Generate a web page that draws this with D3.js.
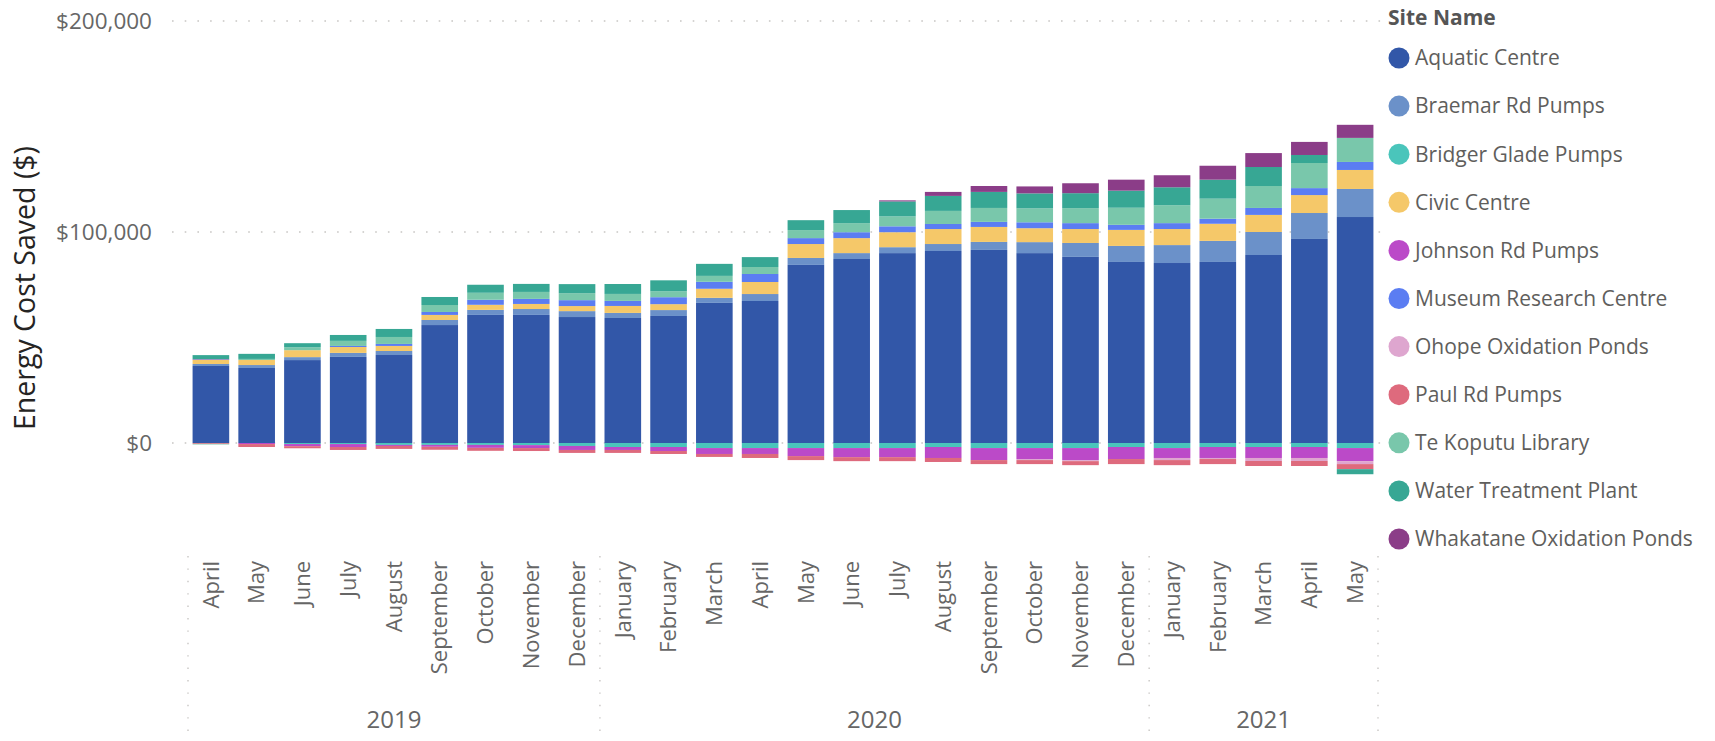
<!DOCTYPE html>
<html>
<head>
<meta charset="utf-8">
<script src="https://cdn.jsdelivr.net/npm/d3@7"></script>
<style>
  body { margin: 0; background: #fff; }
  svg { display: block; font-family: "Segoe UI", "Open Sans", sans-serif; }
</style>
</head>
<body>
<svg id="chart" width="1715" height="741"></svg>
<script>
// ---------------- DATA ----------------
const months = ["April","May","June","July","August","September","October","November","December",
  "January","February","March","April","May","June","July","August","September","October","November","December",
  "January","February","March","April","May"];
const years = ["2019","2020","2021"];
const monthsPerYear = [9, 12, 5];
const yTicks = [0, 100000, 200000];

const siteNames = ["Aquatic Centre","Braemar Rd Pumps","Bridger Glade Pumps","Civic Centre","Johnson Rd Pumps",
  "Museum Research Centre","Ohope Oxidation Ponds","Paul Rd Pumps","Te Koputu Library","Water Treatment Plant",
  "Whakatane Oxidation Ponds"];
const siteColors = ["#3257A8","#6B91C9","#4AC5BB","#F5C869","#BB4AC8","#5B7DF2","#DEA6CF","#DE6A7D","#79C7AB","#37A794","#8B3D88"];

const aquaticCentre = [36500,35550,39300,40800,41700,55900,60700,60700,59700,59250,60200,66400,67300,84400,87200,90000,91000,91500,90000,88200,85800,85300,85800,89100,96700,107100];
const braemarRdPumps = [950,1400,1400,1900,1900,2400,2400,2800,2800,2400,2800,2400,3300,3300,2800,2800,3300,3800,5200,6600,7600,8500,10000,10900,12300,13300];
const bridgerGladePumps = [0,0,-500,-500,-900,-900,-900,-1000,-1400,-1900,-1900,-2400,-2400,-2400,-2400,-2400,-1900,-2400,-2400,-2400,-1900,-2400,-1900,-1900,-1900,-2400];
const civicCentre = [1900,2400,3300,2800,2400,2400,2400,2400,2400,3300,2800,4300,5700,6600,7100,7100,7100,7100,6600,6600,7600,7600,8100,8100,8500,9000];
const johnsonRdPumps = [300,-500,-1000,-1400,-500,-900,-1400,-1400,-1900,-1400,-1900,-2800,-2800,-3800,-4300,-4300,-5200,-5700,-5200,-5700,-5700,-4700,-5200,-5200,-5200,-6200];
const museumResearchCentre = [0,0,0,500,950,1400,2400,2400,2800,2400,3300,3300,3800,2800,2800,2800,2400,2400,2800,2800,2400,2800,2400,3300,3300,3800];
const ohopeOxidationPonds = [0,0,0,0,0,0,0,0,0,0,0,0,0,0,0,0,0,0,-500,-500,0,-1000,-500,-1400,-1400,-1400];
const paulRdPumps = [-400,-1400,-1000,-1400,-1400,-1400,-1400,-1400,-1400,-1400,-1400,-1400,-1900,-1900,-1900,-1900,-1900,-1900,-1900,-1900,-2400,-2400,-2400,-2400,-2400,-2400];
const teKoputuLibrary = [-300,500,1400,2400,3300,3300,3300,3300,3300,3300,2800,2800,3300,3800,4300,4700,6200,6600,6600,7100,8100,8500,9500,10400,11900,11400];
const waterTreatmentPlant = [2000,2400,1900,2800,3800,3800,3800,3800,4300,4700,5200,5700,4700,4700,6200,7100,7100,7600,7100,7100,8100,8500,9000,9000,3800,-2400];
const whakataneOxidationPonds = [0,0,0,0,0,0,0,0,0,0,0,0,0,0,0,500,1900,2800,3300,4700,5200,5700,6600,6600,6200,6200];

const seriesValues = [aquaticCentre, braemarRdPumps, bridgerGladePumps, civicCentre, johnsonRdPumps,
  museumResearchCentre, ohopeOxidationPonds, paulRdPumps, teKoputuLibrary, waterTreatmentPlant, whakataneOxidationPonds];

// ---------------- BUILD TABLE ----------------
const table = months.map((m, i) => {
  const row = { key: i };
  siteNames.forEach((s, j) => row[s] = seriesValues[j][i]);
  return row;
});

const svg = d3.select("#chart");

const x = d3.scaleBand().domain(d3.range(months.length)).range([188, 1378]).paddingInner(0.2).paddingOuter(0.1);
const y = d3.scaleLinear().domain([-50000, 200000]).range([548.5, 21]);

// gridlines
svg.append("g").selectAll("line").data(yTicks).join("line")
  .attr("x1", 172).attr("x2", 1384)
  .attr("y1", d => y(d)).attr("y2", d => y(d))
  .attr("stroke", "#C8C6C4").attr("stroke-width", 1.6)
  .attr("stroke-dasharray", "1.6,11.1").attr("stroke-linecap", "butt");

// y tick labels
const fmt = d => "$" + d3.format(",")(d);
svg.append("g").selectAll("text").data(yTicks).join("text")
  .attr("x", 152).attr("y", d => y(d)).attr("dy", "0.35em")
  .attr("text-anchor", "end").attr("fill", "#666666")
  .style("font-size", "22.5px").text(fmt);

// y title
svg.append("text")
  .attr("transform", "translate(25," + 288 + ") rotate(-90)")
  .attr("text-anchor", "middle").attr("dy", "0.35em")
  .attr("fill", "#252423").style("font-size", "28.5px")
  .text("Energy Cost Saved ($)");

// stacked bars
const stack = d3.stack().keys(siteNames).offset(d3.stackOffsetDiverging);
const stacked = stack(table);

svg.append("g").selectAll("g").data(stacked).join("g")
  .attr("fill", (d, i) => siteColors[i])
  .selectAll("rect").data(d => d).join("rect")
  .attr("x", (d, i) => x(i))
  .attr("width", x.bandwidth())
  .attr("y", d => y(Math.max(d[0], d[1])))
  .attr("height", d => Math.abs(y(d[0]) - y(d[1])));

// month labels
svg.append("g").selectAll("text").data(months).join("text")
  .attr("transform", (d, i) => "translate(" + (x(i) + x.bandwidth() / 2) + ",561) rotate(-90)")
  .attr("text-anchor", "end").attr("dy", "0.35em")
  .attr("fill", "#666666").style("font-size", "22px")
  .text(d => d);

// year dividers and labels
let acc = 0;
const boundaries = [0];
monthsPerYear.forEach(n => { acc += n; boundaries.push(acc); });
const bx = i => i === 0 ? 188 : (i === months.length ? 1378 : x(i) - x.step() * x.paddingInner() / 2);
svg.append("g").selectAll("line").data(boundaries).join("line")
  .attr("x1", d => bx(d)).attr("x2", d => bx(d))
  .attr("y1", 556).attr("y2", 741)
  .attr("stroke", "#C8C6C4").attr("stroke-width", 1.4)
  .attr("stroke-dasharray", "1.4,11");

svg.append("g").selectAll("text").data(years).join("text")
  .attr("x", (d, i) => (bx(boundaries[i]) + bx(boundaries[i + 1])) / 2)
  .attr("y", 720).attr("dy", "0.35em")
  .attr("text-anchor", "middle").attr("fill", "#666666")
  .style("font-size", "24px").text(d => d);

// legend
const lg = svg.append("g");
lg.append("text").attr("x", 1388).attr("y", 18).attr("dy", "0.35em")
  .attr("fill", "#555555").style("font-size", "21px").style("font-weight", "bold")
  .text("Site Name");
const items = lg.selectAll("g.item").data(siteNames).join("g").attr("class", "item")
  .attr("transform", (d, i) => "translate(0," + (58 + i * 48.1) + ")");
items.append("circle").attr("cx", 1399).attr("cy", 0).attr("r", 10.5)
  .attr("fill", (d, i) => siteColors[i]);
items.append("text").attr("x", 1415).attr("y", 0).attr("dy", "0.35em")
  .attr("fill", "#605E5C").style("font-size", "21px").text(d => d);
</script>
</body>
</html>
